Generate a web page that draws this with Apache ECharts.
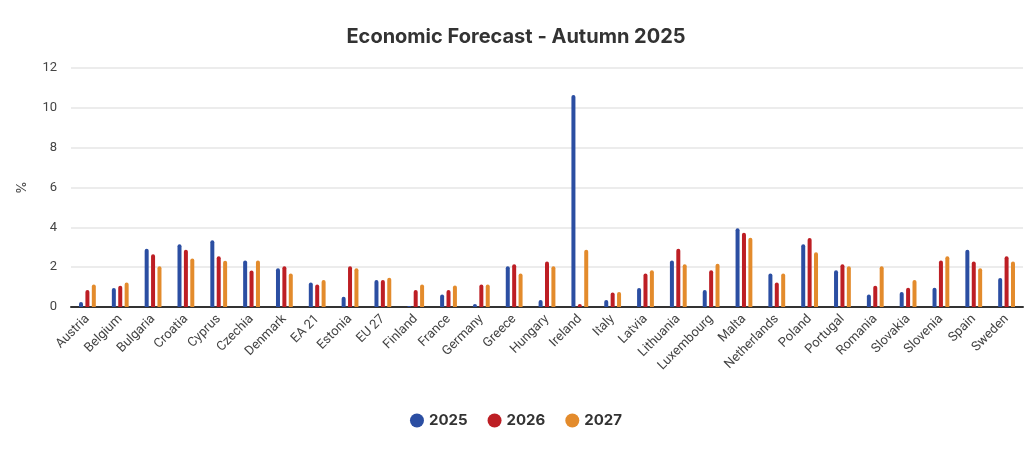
<!DOCTYPE html>
<html>
<head>
<meta charset="utf-8">
<script src="https://cdn.jsdelivr.net/npm/echarts@6/dist/echarts.min.js"></script>
<style>html,body{margin:0;padding:0;background:#fff}#c{width:1032px;height:450px}</style>
</head>
<body>
<div id="c"></div>
<script>
const categories = ["Austria","Belgium","Bulgaria","Croatia","Cyprus","Czechia","Denmark","EA 21","Estonia","EU 27","Finland","France","Germany","Greece","Hungary","Ireland","Italy","Latvia","Lithuania","Luxembourg","Malta","Netherlands","Poland","Portugal","Romania","Slovakia","Slovenia","Spain","Sweden"];
const y2025 = [0.25,0.95,2.93,3.15,3.35,2.33,1.95,1.23,0.52,1.35,0.05,0.63,0.15,2.05,0.35,10.65,0.35,0.95,2.33,0.85,3.95,1.68,3.15,1.85,0.63,0.75,0.97,2.88,1.45];
const y2026 = [0.85,1.07,2.65,2.88,2.55,1.83,2.05,1.13,2.05,1.35,0.85,0.85,1.13,2.15,2.28,0.15,0.73,1.68,2.93,1.85,3.73,1.23,3.47,2.15,1.07,0.97,2.33,2.28,2.55];
const y2027 = [1.13,1.23,2.05,2.43,2.32,2.33,1.68,1.35,1.95,1.47,1.13,1.08,1.13,1.68,2.05,2.88,0.75,1.85,2.15,2.17,3.48,1.68,2.75,2.05,2.05,1.35,2.55,1.95,2.28];
const seriesNames = ["2025","2026","2027"];
const colors = ["#2B4EA2","#BD1E24","#E38B2C"];

const chart = echarts.init(document.getElementById('c'));
const mk = (name, data, color) => ({
  name, type: 'bar', data, barWidth: 4, barGap: '60%',
  itemStyle: {color, borderRadius: [2,2,0,0]}
});
chart.setOption({
  animation: false,
  color: colors,
  textStyle: {fontFamily: 'Inter, Roboto, sans-serif'},
  title: {
    text: 'Economic Forecast - Autumn 2025', left: 'center', top: 22,
    textStyle: {fontSize: 20, fontWeight: 'bold', color: '#333', fontFamily: 'Inter, Roboto, sans-serif'}
  },
  legend: {
    bottom: 17, left: 'center', icon: 'circle', itemWidth: 14, itemHeight: 14, itemGap: 20,
    textStyle: {fontSize: 15, fontWeight: 'bold', color: '#333'}
  },
  grid: {left: 71, right: 9, top: 68, bottom: 143},
  xAxis: {
    type: 'category', data: categories,
    axisTick: {show: false},
    axisLine: {lineStyle: {color: '#333', width: 2}},
    axisLabel: {rotate: 45, interval: 0, fontSize: 13, color: '#444', margin: 10, fontFamily: 'Roboto, sans-serif'}
  },
  yAxis: {
    type: 'value', min: 0, max: 12, interval: 2,
    name: '%', nameLocation: 'middle', nameGap: 42, nameRotate: 90,
    nameTextStyle: {fontSize: 13, color: '#444'},
    axisLabel: {fontSize: 13, color: '#444', margin: 14, fontFamily: 'Roboto, sans-serif'},
    splitLine: {lineStyle: {color: '#e6e6e6', width: 1.5}}
  },
  series: [mk(seriesNames[0], y2025, colors[0]), mk(seriesNames[1], y2026, colors[1]), mk(seriesNames[2], y2027, colors[2])]
});
</script>
</body>
</html>
